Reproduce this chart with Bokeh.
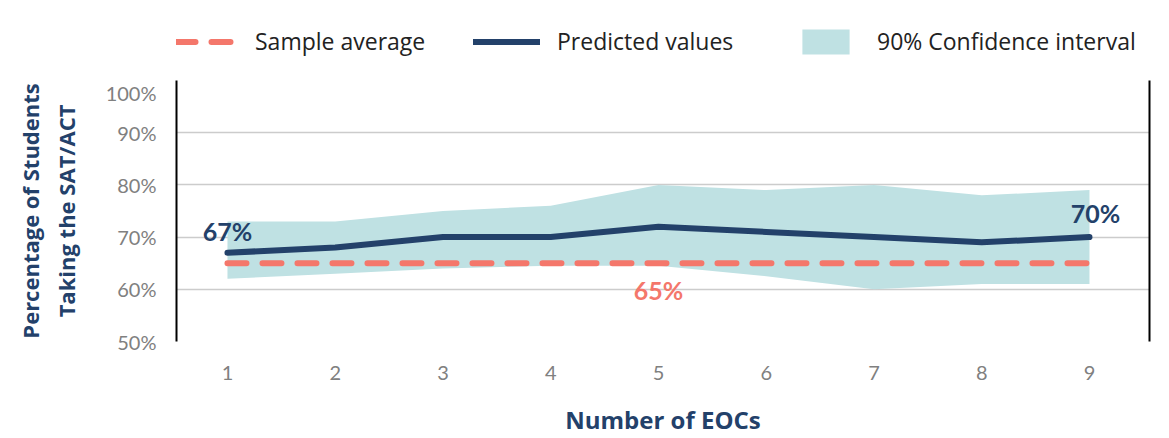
from bokeh.plotting import figure
from bokeh.layouts import column
from bokeh.models import (Legend, LegendItem, LinearAxis, FixedTicker, PrintfTickFormatter,
                          ColumnDataSource, Range1d)
from bokeh.core.properties import value
from bokeh.embed import file_html
from bokeh.resources import INLINE

# ---- data ----
eocs = [1, 2, 3, 4, 5, 6, 7, 8, 9]
predicted = [67, 68, 70, 70, 72, 71, 70, 69, 70]
ci_upper = [73, 73, 75, 76, 80, 79, 80, 78, 79]
ci_lower = [62, 63, 64, 64.5, 64.5, 62.5, 60, 61, 61]
sample_average = 65
y_ticks = [50, 60, 70, 80, 90, 100]
series_labels = ["Sample average", "Predicted values", "90% Confidence interval"]

NAVY = "#23416a"
CORAL = "#f4776b"
TEAL = "#bfe1e3"
FONT = "Lato"
TFONT = "Open Sans"

src = ColumnDataSource(dict(x=eocs, pred=predicted, up=ci_upper, lo=ci_lower,
                            avg=[sample_average] * len(eocs)))

# ---------------- main chart ----------------
p = figure(width=1169, height=358, output_backend="svg", toolbar_location=None,
           x_range=Range1d(0.527, 9.557), y_range=Range1d(50, 100),
           min_border_left=176, min_border_right=20, min_border_top=0, min_border_bottom=94)
p.outline_line_color = None
p.background_fill_color = "white"
p.border_fill_color = "white"

band = p.varea(x="x", y1="lo", y2="up", source=src, fill_color=TEAL, fill_alpha=1.0)
avg = p.line(x="x", y="avg", source=src, line_color=CORAL, line_width=6,
             line_dash="19 16", line_cap="round")
pred = p.line(x="x", y="pred", source=src, line_color=NAVY, line_width=6, line_cap="round")

p.text(x=[eocs[0]], y=[predicted[0]], text=[f"{predicted[0]}%"], text_align="center",
       text_baseline="middle", y_offset=-22, text_color=NAVY,
       text_font=value(FONT), text_font_size="25px", text_font_style="bold")
p.text(x=[eocs[-1]], y=[predicted[-1]], text=[f"{predicted[-1]}%"], text_align="center",
       text_baseline="middle", x_offset=6, y_offset=-24, text_color=NAVY,
       text_font=value(FONT), text_font_size="25px", text_font_style="bold")
p.text(x=[eocs[4]], y=[sample_average], text=[f"{sample_average}%"], text_align="center",
       text_baseline="middle", y_offset=27, text_color=CORAL,
       text_font=value(FONT), text_font_size="25px", text_font_style="bold")

p.xaxis.ticker = FixedTicker(ticks=eocs)
p.yaxis.ticker = FixedTicker(ticks=y_ticks)
p.yaxis.formatter = PrintfTickFormatter(format="%d%%")
for ax in (p.xaxis[0], p.yaxis[0]):
    ax.major_tick_line_color = None
    ax.minor_tick_line_color = None
    ax.major_label_text_color = "#808080"
    ax.major_label_text_font = FONT
    ax.major_label_text_font_size = "20px"
    ax.axis_label_text_color = NAVY
    ax.axis_label_text_font = TFONT
    ax.axis_label_text_font_style = "bold"
p.xaxis.axis_label_text_font_size = "24px"
p.yaxis.axis_label_text_font_size = "22px"
p.xaxis.axis_line_color = None
p.xaxis.major_label_standoff = 18
p.xaxis.axis_label = "Number of EOCs"
p.xaxis.axis_label_standoff = 20
p.yaxis.axis_line_color = "black"
p.yaxis.axis_line_width = 2
p.yaxis.major_label_standoff = 14
p.yaxis.axis_label = "Percentage of Students\nTaking the SAT/ACT"
p.yaxis.axis_label_standoff = 22

right = LinearAxis(ticker=FixedTicker(ticks=[]), major_tick_line_color=None,
                   minor_tick_line_color=None, major_label_text_font_size="0px",
                   axis_line_color="black", axis_line_width=2)
p.add_layout(right, "right")

p.xgrid.grid_line_color = None
p.ygrid.grid_line_color = "#cccccc"
p.ygrid.grid_line_width = 1.5

# ---------------- legend strip ----------------
# same renderers' styles; the data lies outside this strip's ranges so only legend shows
lg = figure(width=1169, height=80, output_backend="svg", toolbar_location=None,
            x_range=Range1d(-2, -1), y_range=Range1d(-2, -1),
            min_border_left=176, min_border_right=20, min_border_top=0, min_border_bottom=0)
lg.axis.visible = False
lg.grid.grid_line_color = None
lg.outline_line_color = None
lg.background_fill_color = "white"
lg.border_fill_color = "white"
l_avg = lg.line(x="x", y="avg", source=src, line_color=CORAL, line_width=6,
                line_dash="19 16", line_cap="round")
l_pred = lg.line(x="x", y="pred", source=src, line_color=NAVY, line_width=6, line_cap="round")
l_band = lg.varea(x="x", y1="lo", y2="up", source=src, fill_color=TEAL, fill_alpha=1.0)

specs = [(series_labels[0], l_avg, (0, 23), 59, 20),
         (series_labels[1], l_pred, (297, 23), 67, 17),
         (series_labels[2], l_band, (620, 23), 59, 22)]
for lab, rend, loc, gw, so in specs:
    leg = Legend(items=[LegendItem(label=lab, renderers=[rend])],
                 location=loc, glyph_width=gw, glyph_height=31, label_standoff=so,
                 label_text_font=TFONT, label_text_font_size="23px",
                 label_text_color="#222222", label_text_baseline="middle",
                 border_line_color=None, background_fill_alpha=0, padding=0, margin=0)
    lg.add_layout(leg, "center")

layout = column(lg, p, spacing=0)
open("out.html", "w").write(file_html(layout, INLINE))
